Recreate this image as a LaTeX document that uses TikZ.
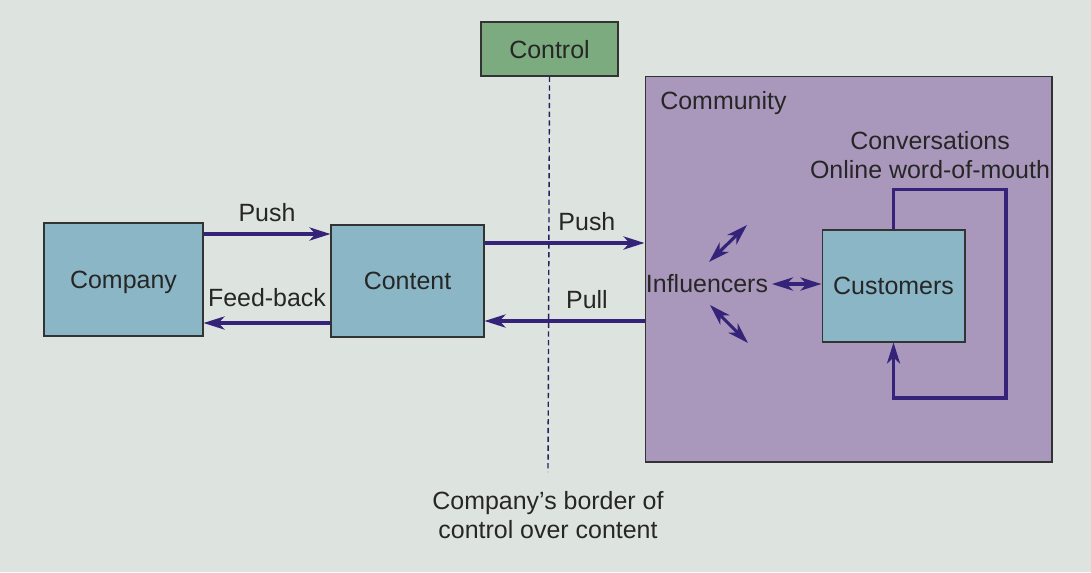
\documentclass[tikz,border=0pt]{standalone}
\usepackage{fontspec}
\setmainfont{Liberation Sans}
\usepackage{xcolor}
\usetikzlibrary{arrows, arrows.meta}

\definecolor{pagebg}{HTML}{DDE3DF}
\definecolor{boxblue}{HTML}{8AB6C6}
\definecolor{ctrlgreen}{HTML}{7CAB80}
\definecolor{commpurple}{HTML}{AA98BC}
\definecolor{flowpurple}{HTML}{35237A}

\begin{document}
\begin{tikzpicture}[x=0.02cm, y=-0.02cm, >={Stealth[length=12pt, width=7.5pt, inset=3.5pt]}, align=center,
  font=\fontsize{14.2}{16.6}\selectfont, text=black!85,
  box/.style={draw=black!80, line width=0.6pt, fill=boxblue, inner sep=0pt, text depth=0pt},
  flow/.style={->, draw=flowpurple, line width=1.8pt},
  both/.style={<->, draw=flowpurple, line width=1.8pt}]
\fill[pagebg] (0,0) rectangle (1091,572);

% community area with the customers inside
\node[box, fill=commpurple, minimum width=8.14cm, minimum height=7.72cm] at (848.5,269) (community) {};
\node[right, inner sep=0pt] at (660,103) (commlabel) {Community};
\node[box, minimum width=2.86cm, minimum height=2.24cm] at (893.5,286) (customers) {Customers};
\node[inner sep=2pt] at (707,284) (influencers) {Influencers};
\node at (930,155) (wom) {Conversations\\Online word-of-mouth};

% company side
\node[box, minimum width=3.18cm, minimum height=2.26cm] at (123.5,279.5) (company) {Company};
\node[box, minimum width=3.06cm, minimum height=2.24cm] at (407.5,281) (content) {Content};
\node[box, fill=ctrlgreen, minimum width=2.74cm, minimum height=1.08cm] at (549.5,49) (control) {Control};
\node at (548,515) (borderlabel) {Company’s border of\\control over content};
\coordinate (border) at (548,472);

\coordinate (upA) at (709,262);
\coordinate (upB) at (747,225);
\coordinate (dnA) at (710,305);
\coordinate (dnB) at (748,343);
\coordinate (loopcorner) at (1006,398);

\draw[flow] (company.east |- 0,234) -- node[above=3pt]{Push} (content.west |- 0,234);
\draw[flow] (content.west |- 0,323) -- node[above=5pt]{Feed-back} (company.east |- 0,323);
\draw[flow] (content.east |- 0,243) -- node[above=3pt, pos=0.64]{Push} (community.west |- 0,243);
\draw[flow] (community.west |- 0,321) -- node[above=3pt, pos=0.36]{Pull} (content.east |- 0,321);
\draw[dashed, flowpurple!80!black, line width=0.8pt, dash pattern=on 3pt off 2pt] (control.south) -- (border);

\draw[both] (influencers.east) -- (customers.west |- influencers.east);
\draw[both] (upA) -- (upB);
\draw[both] (dnA) -- (dnB);
\draw[flow] (customers.north) -- ++(0,-40) -| (loopcorner) -| (customers.south);
\end{tikzpicture}
\end{document}
